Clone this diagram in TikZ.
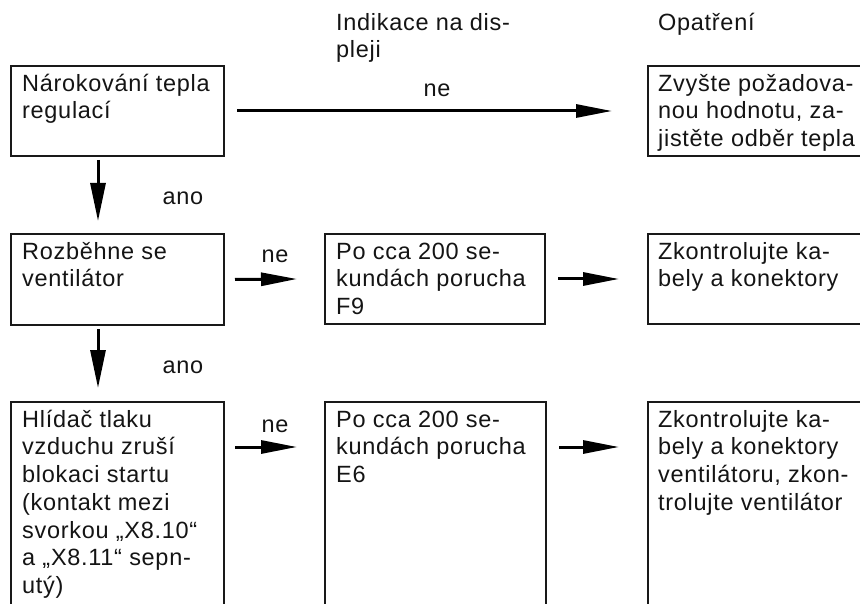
\documentclass[tikz,border=0pt]{standalone}
\usepackage{fontspec}
\setmainfont{Liberation Sans}[LetterSpace=3]
\usetikzlibrary{arrows.meta,calc}
\newcommand\tstrut{\rule{0pt}{21pt}}
\begin{document}
\begin{tikzpicture}[x=1pt,y=-1pt,
  every node/.style={font=\fontsize{23.5pt}{27.7pt}\selectfont, text=black!92},
  box/.style={draw=black!90, line width=1.8pt, anchor=north west, inner sep=0pt, outer sep=0pt},
  txt/.style={anchor=north west, inner sep=0pt, align=left},
  lbl/.style={anchor=base, inner sep=0pt},
  arr/.style={draw=black, line width=3pt, -{Triangle[length=36pt,width=13pt]}},
  darr/.style={draw=black, line width=3pt, -{Triangle[length=38pt,width=15pt]}}]
\useasboundingbox (0,0) rectangle (860,604);
\clip (0,0) rectangle (860,604);
% headers
\node[txt] (h1) at (336,9) {\tstrut Indikace na dis-\\pleji};
\node[txt] (h2) at (658,9) {\tstrut Opatření};
% boxes
\node[box, minimum width=213pt, minimum height=90pt] (b1) at (11,66) {};
\node[box, minimum width=230pt, minimum height=90pt] (r1) at (648,66) {};
\node[box, minimum width=213pt, minimum height=91pt] (b2) at (11,234) {};
\node[box, minimum width=220pt, minimum height=90pt] (m2) at (325,234) {};
\node[box, minimum width=230pt, minimum height=90pt] (r2) at (648,234) {};
\node[box, minimum width=213pt, minimum height=300pt] (b3) at (11,402) {};
\node[box, minimum width=221pt, minimum height=300pt] (m3) at (325,402) {};
\node[box, minimum width=230pt, minimum height=300pt] (r3) at (648,402) {};
% texts
\node[txt] (t1) at ($(b1.north west)+(11,4)$) {\tstrut Nárokování tepla\\regulací};
\node[txt] (t2) at ($(r1.north west)+(10,4)$) {\tstrut Zvyšte požadova-\\nou hodnotu, za-\\jistěte odběr tepla};
\node[txt] (t3) at ($(b2.north west)+(11,4)$) {\tstrut Rozběhne se\\ventilátor};
\node[txt] (t4) at ($(m2.north west)+(11,4)$) {\tstrut Po cca 200 se-\\kundách porucha\\F9};
\node[txt] (t5) at ($(r2.north west)+(10,4)$) {\tstrut Zkontrolujte ka-\\bely a konektory};
\node[txt] (t6) at ($(b3.north west)+(11,4)$) {\tstrut Hlídač tlaku\\vzduchu zruší\\blokaci startu\\(kontakt mezi\\svorkou „X8.10“\\a „X8.11“ sepn-\\utý)};
\node[txt] (t7) at ($(m3.north west)+(11,4)$) {\tstrut Po cca 200 se-\\kundách porucha\\E6};
\node[txt] (t8) at ($(r3.north west)+(10,4)$) {\tstrut Zkontrolujte ka-\\bely a konektory\\ventilátoru, zkon-\\trolujte ventilátor};
% connectors
\draw[arr] ($(b1.east)+(13,0)$) -- ($(r1.west)+(-36,0)$);
\draw[arr] ($(b2.east)+(11,0)$) -- ($(m2.west)+(-28,0)$);
\draw[arr] ($(m2.east)+(13,0)$) -- ($(r2.west)+(-29,0)$);
\draw[arr] ($(b3.north east)+(11,45)$) -- ($(m3.north west)+(-28,45)$);
\draw[arr] ($(m3.north east)+(13,45)$) -- ($(r3.north west)+(-29,45)$);
\draw[darr] ($(b1.south west)+(87,4)$) -- ($(b2.north west)+(87,-13)$);
\draw[darr] ($(b2.south west)+(87,4)$) -- ($(b3.north west)+(87,-14)$);
% labels
\node[lbl] (l1) at (437,97) {ne};
\node[lbl] (l2) at (275,263) {ne};
\node[lbl] (l3) at (275,432) {ne};
\node[lbl] (l4) at (183,205) {ano};
\node[lbl] (l5) at (183,373) {ano};
\end{tikzpicture}
\end{document}
